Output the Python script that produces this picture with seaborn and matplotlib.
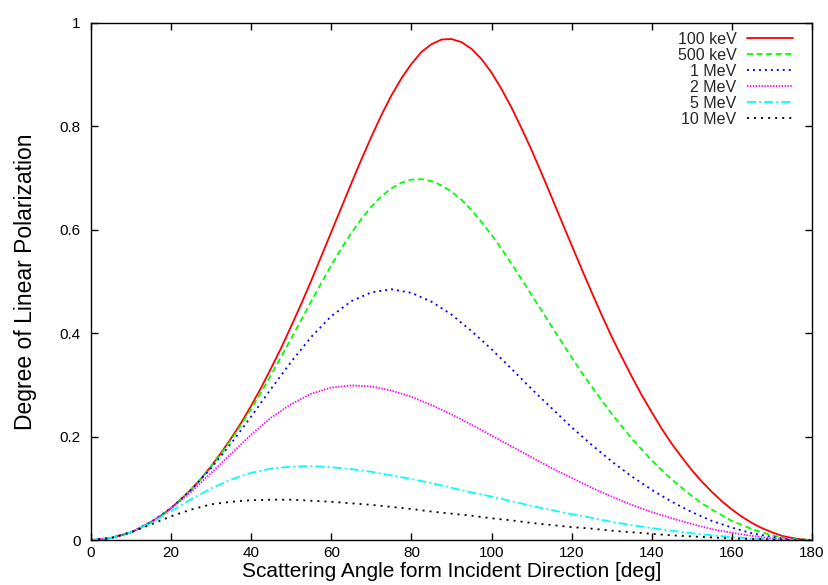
import matplotlib
matplotlib.use("Agg")
import matplotlib.pyplot as plt
import pandas as pd
import seaborn as sns
from matplotlib.ticker import FuncFormatter, MultipleLocator

# scattering angle [deg]: every 2.5 deg for the two tall curves, every 5 deg for the rest
angle_fine = [i * 2.5 for i in range(73)]
angle = list(range(0, 181, 5))

# degree of linear polarization
pol_100kev = [0, .001, .004, .009, .015, .024, .035, .047, .062, .079, .098, .119, .143,
              .169, .197, .227, .260, .295, .333, .372, .414, .457, .502, .549, .596, .643,
              .690, .736, .780, .822, .860, .893, .921, .944, .959, .968, .969, .963, .950,
              .930, .904, .872, .836, .796, .754, .709, .663, .616, .570, .524, .479, .435,
              .393, .354, .316, .280, .247, .215, .186, .160, .135, .113, .093, .075, .059,
              .045, .033, .023, .015, .008, .004, .001, 0]
pol_500kev = [0, .001, .004, .009, .015, .024, .035, .047, .062, .079, .098, .119, .142,
              .167, .194, .223, .254, .286, .320, .355, .390, .426, .462, .497, .532, .564,
              .594, .621, .645, .665, .680, .691, .697, .698, .694, .686, .674, .658, .638,
              .615, .590, .563, .534, .504, .474, .444, .413, .383, .353, .324, .297, .270,
              .244, .220, .196, .175, .154, .135, .117, .101, .085, .071, .059, .048, .037,
              .029, .021, .015, .009, .005, .002, .001, 0]
pol_1mev = [0, .004, .015, .035, .062, .097, .139, .187, .239, .293, .345, .393, .433,
            .462, .479, .485, .478, .461, .436, .404, .369, .331, .292, .255, .218, .184,
            .152, .123, .097, .074, .054, .037, .024, .013, .006, .001, 0]
pol_2mev = [0, .004, .015, .034, .061, .093, .130, .167, .204, .237, .263, .283, .295,
            .299, .297, .289, .277, .261, .243, .223, .202, .181, .160, .139, .120, .101,
            .084, .068, .054, .042, .031, .021, .014, .008, .003, .001, 0]
pol_5mev = [0, .004, .015, .033, .056, .079, .100, .117, .130, .138, .142, .143, .141,
            .137, .132, .125, .118, .110, .101, .092, .084, .075, .066, .058, .050, .043,
            .035, .029, .023, .018, .013, .009, .006, .003, .001, 0, 0]
pol_10mev = [0, .004, .015, .030, .046, .059, .069, .074, .077, .078, .078, .076, .074,
             .071, .068, .064, .060, .055, .051, .047, .042, .038, .033, .029, .025, .022,
             .018, .015, .012, .009, .007, .005, .003, .002, .001, 0, 0]

energies = ["100 keV", "500 keV", "1 MeV", "2 MeV", "5 MeV", "10 MeV"]
series = [(angle_fine, pol_100kev), (angle_fine, pol_500kev), (angle, pol_1mev),
          (angle, pol_2mev), (angle, pol_5mev), (angle, pol_10mev)]

colors = ["#ff0000", "#00ff00", "#0000ff", "#ff00ff", "#00ffff", "#000000"]
dash_styles = ["", (3.3, 2.0), (1.1, 2.2), (0.8, 0.8), (5.0, 1.7, 1.1, 1.7), (1.1, 2.8)]

df = pd.concat(
    [pd.DataFrame({"angle": xs, "pol": ys, "energy": name})
     for name, (xs, ys) in zip(energies, series)],
    ignore_index=True,
)

sns.set_theme(style="white")
plt.rcParams["font.family"] = ["Liberation Sans", "DejaVu Sans"]

fig = plt.figure(figsize=(8.29, 5.85), dpi=100)
ax = fig.add_axes([0.1098, 0.0769, 0.8697, 0.8838])

sns.lineplot(
    data=df, x="angle", y="pol", hue="energy", style="energy",
    hue_order=energies, style_order=energies,
    palette=dict(zip(energies, colors)),
    dashes=dict(zip(energies, dash_styles)),
    linewidth=1.3, errorbar=None, legend=False, ax=ax,
)

ax.set_xlim(0, 180)
ax.set_ylim(0, 1)
ax.xaxis.set_major_locator(MultipleLocator(20))
ax.yaxis.set_major_locator(MultipleLocator(0.2))
ax.yaxis.set_major_formatter(FuncFormatter(lambda v, _: f"{v:g}"))

for sp in ax.spines.values():
    sp.set_visible(True)
    sp.set_color("black")
    sp.set_linewidth(1.0)

ax.tick_params(axis="both", direction="in", bottom=True, left=True, top=True, right=True,
               length=5, width=1, labelsize=11, colors="black")
ax.tick_params(axis="x", pad=4.5)
ax.tick_params(axis="y", pad=7.5)

ax.set_xlabel("Scattering Angle form Incident Direction [deg]", fontsize=15, color="black")
ax.set_ylabel("Degree of Linear Polarization", fontsize=16.5, color="black")
ax.xaxis.set_label_coords(0.5, -0.0428)
ax.yaxis.set_label_coords(-0.075, 0.5)

handles = ax.get_lines()[:len(energies)]
ax.legend(handles, energies, loc="upper right", bbox_to_anchor=(0.9736, 0.983),
          frameon=False, markerfirst=False, fontsize=11.5, handlelength=2.9,
          handletextpad=0.65, labelspacing=0.06, borderpad=0, borderaxespad=0)

fig.savefig("out.png", dpi=100)
